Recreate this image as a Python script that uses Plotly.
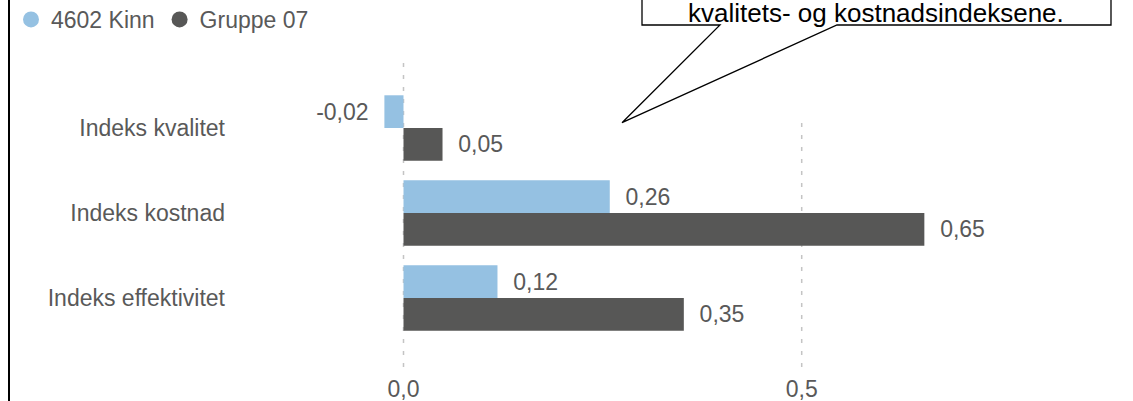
import plotly.graph_objects as go

# ---- data ----
categories = ["Indeks kvalitet", "Indeks kostnad", "Indeks effektivitet"]
kinn_values = [-0.024, 0.259, 0.118]
gruppe_values = [0.049, 0.654, 0.352]
series_names = ["4602 Kinn", "Gruppe 07"]
x_tickvals = [0.0, 0.5]
x_ticklabels = ["0,0", "0,5"]
callout_text = "kvalitets- og kostnadsindeksene."

# ---- styling / layout geometry ----
FIG_W, FIG_H = 1133, 401
L, R, T, B = 240, 13, 63, 34
PW, PH = FIG_W - L - R, FIG_H - T - B
X0_PX, PX_PER_UNIT = 403.5, 796.4
CAT0_PX, PX_PER_CAT = 128, 85

BLUE = "#95c1e2"
DARK = "#575756"
TXT = "#595959"
FONT = "Liberation Sans, Arial, sans-serif"
FS = 23
NB = "\u00a0\u00a0"


def px(xp):
    return (xp - L) / PW


def py(yp):
    return (FIG_H - B - yp) / PH


def lab(v):
    s = f"{v:.2f}".replace(".", ",")
    return s + NB if v < 0 else NB + s


fig = go.Figure()
for name, vals, col in [(series_names[0], kinn_values, BLUE),
                        (series_names[1], gruppe_values, DARK)]:
    fig.add_trace(go.Bar(
        x=vals, y=categories, orientation="h", name=name,
        marker=dict(color=col, line=dict(width=0)),
        text=[lab(v) for v in vals], textposition="outside",
        textfont=dict(family=FONT, size=FS, color=TXT),
        constraintext="none", cliponaxis=False, showlegend=False,
        hoverinfo="skip"))
    fig.add_trace(go.Scatter(
        x=[None], y=[None], mode="markers", name=name,
        marker=dict(symbol="circle", size=20, color=col)))

x_range = [(L - X0_PX) / PX_PER_UNIT, (L + PW - X0_PX) / PX_PER_UNIT]
y_range = [(FIG_H - B - CAT0_PX) / PX_PER_CAT, (T - CAT0_PX) / PX_PER_CAT]

shapes = []
# dotted gridlines
grid_tops = [T, 123]
for tv, top in zip(x_tickvals, grid_tops):
    shapes.append(dict(type="line", xref="x", yref="paper", x0=tv, x1=tv,
                       y0=0, y1=py(top), layer="below",
                       line=dict(color="#c4c4c4", width=1.5, dash="4px,8px")))
# left border line
shapes.append(dict(type="line", xref="paper", yref="paper",
                   x0=px(9), x1=px(9), y0=py(FIG_H + 5), y1=py(-5),
                   line=dict(color="black", width=2)))
# callout box with pointer
pts = [(642, -10), (642, 25), (720, 25), (622, 122.7), (837, 25),
       (1111, 25), (1111, -10)]
path = "M " + " L ".join(f"{px(a):.5f},{py(b):.5f}" for a, b in pts)
shapes.append(dict(type="path", xref="paper", yref="paper", path=path,
                   fillcolor="white", line=dict(color="black", width=1.3),
                   layer="above"))

fig.update_layout(
    width=FIG_W, height=FIG_H,
    margin=dict(l=L, r=R, t=T, b=B, pad=0, autoexpand=False),
    paper_bgcolor="white", plot_bgcolor="white",
    barmode="group", bargap=0.23, bargroupgap=0,
    separators=",.",
    font=dict(family=FONT, size=FS, color=TXT),
    xaxis=dict(range=x_range, tickvals=x_tickvals, ticktext=x_ticklabels,
               showgrid=False, zeroline=False, showline=False,
               ticks="", ticklabelstandoff=6,
               tickfont=dict(family=FONT, size=FS, color=TXT)),
    yaxis=dict(range=y_range, type="category", showgrid=False,
               zeroline=False, showline=False, ticks="",
               ticklabelstandoff=14,
               tickfont=dict(family=FONT, size=FS, color=TXT)),
    legend=dict(orientation="h", x=px(11), y=py(-2), xanchor="left",
                yanchor="top", font=dict(family=FONT, size=FS, color=TXT),
                itemsizing="trace", itemwidth=30, tracegroupgap=0,
                bgcolor="rgba(0,0,0,0)"),
    shapes=shapes,
    annotations=[dict(text=callout_text, xref="paper", yref="paper",
                      x=px(876), y=py(13), xanchor="center",
                      yanchor="middle", showarrow=False,
                      font=dict(family=FONT, size=26, color="black"))],
)

fig.write_html(
    "out.html",
    config={"displayModeBar": False},
    post_script="document.body.style.margin='0';"
                "document.body.style.overflow='hidden';",
)
